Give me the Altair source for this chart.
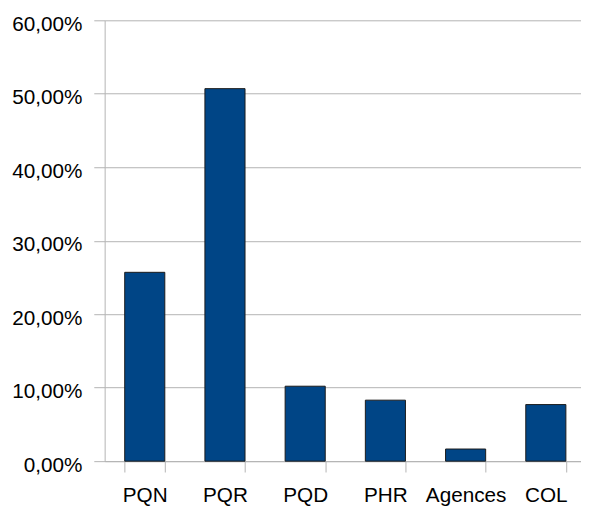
import altair as alt
import pandas as pd

categories = ["PQN", "PQR", "PQD", "PHR", "Agences", "COL"]
values = [0.257, 0.507, 0.102, 0.083, 0.0165, 0.077]
y_ticks = [0, 0.1, 0.2, 0.3, 0.4, 0.5, 0.6]

df = pd.DataFrame({"cat": categories, "val": values})

FONT = "Liberation Sans"
GRID = "#b3b3b3"

chart = alt.Chart(df).mark_bar(
    color="#004586", stroke="#1a1a1a", strokeWidth=1
).encode(
    x=alt.X(
        "cat:N", sort=categories, title=None,
        scale=alt.Scale(rangeMin=0, rangeMax=488, paddingInner=0.5, paddingOuter=0.25),
        axis=alt.Axis(
            labelAngle=0, tickBand="extent", tickSize=11, tickColor=GRID,
            domainColor=GRID, labelBaseline="alphabetic", labelPadding=30,
            labelFontSize=21, labelFont=FONT, labelColor="#000000",
        ),
    ),
    y=alt.Y(
        "val:Q", title=None,
        scale=alt.Scale(domain=[0, 0.6], nice=False),
        axis=alt.Axis(
            values=y_ticks, tickSize=11, tickColor=GRID, domainColor=GRID,
            grid=True, gridColor=GRID, labelAlign="right", labelPadding=12,
            labelBaseline="alphabetic", labelOffset=10,
            labelFontSize=21, labelFont=FONT, labelColor="#000000",
            labelExpr="replace(format(datum.value, '.2%'), '.', ',')",
        ),
    ),
).properties(
    width=483, height=447,
    autosize=alt.AutoSizeParams(type="none"),
    padding={"left": 98, "top": 9, "right": 0, "bottom": 42},
).configure_view(stroke=None).configure_axis(
    domainWidth=1, tickWidth=1, gridWidth=1, labelOverlap=False
)

chart.save("out.html", embed_options={"renderer": "svg", "actions": False})
